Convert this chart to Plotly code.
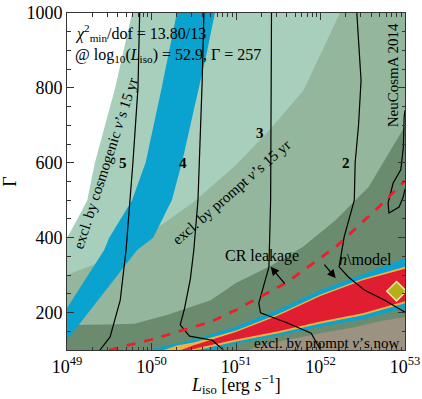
import plotly.graph_objects as go

# ---- region boundaries (log10 L_iso, Gamma) ----
white_edge_x = [49.0, 49.1, 49.24, 49.33, 49.45, 49.57, 49.67, 49.77]
white_edge_y = [400, 440, 500, 600, 700, 800, 900, 1000]

prompt15_x = [49.0, 49.4, 49.7, 50.0, 50.5, 51.0, 51.4, 51.8, 52.23]
prompt15_y = [300, 335, 370, 415, 495, 594, 688, 794, 1000]

dark_x = [49.0, 49.5, 49.8, 50.2, 50.7, 51.0, 51.39, 51.79, 52.18, 52.57, 53.0]
dark_y = [167, 168, 170, 195, 233, 279, 322, 375, 447, 535, 698]

now_x = [51.15, 51.3, 51.6, 52.0, 52.4, 52.7, 53.0]
now_y = [100, 113, 127, 145, 161, 177, 188]

cosmo_left_x = [49.0, 49.44, 49.5, 49.77, 49.93, 50.12, 50.30]
cosmo_left_y = [212, 367, 400, 500, 600, 800, 1000]
cosmo_right_x = [49.0, 49.83, 50.02, 50.24, 50.36, 50.46, 50.56, 50.66, 50.75]
cosmo_right_y = [127, 367, 400, 500, 600, 700, 800, 900, 1000]

cyan_top_x = [49.95, 50.5, 51.0, 51.5, 52.0, 52.5, 53.0]
cyan_top_y = [100, 128, 163, 208, 260, 302, 345]
cyan_bot_x = [50.7, 51.0, 51.5, 52.0, 52.5, 53.0]
cyan_bot_y = [100, 117, 138, 162, 182, 212]

orange_top_x = [50.15, 50.3, 50.5, 51.0, 51.5, 52.0, 52.5, 53.0]
orange_top_y = [100, 112, 120, 152, 196, 248, 290, 322]
orange_bot_x = [50.5, 50.6, 51.0, 51.5, 52.0, 52.5, 53.0]
orange_bot_y = [100, 103, 123, 145, 171, 193, 225]

red_top_x = [50.35, 50.5, 51.0, 51.5, 52.0, 52.5, 53.0]
red_top_y = [100, 113, 148, 192, 244, 286, 317]
red_bot_x = [50.45, 50.6, 51.0, 51.5, 52.0, 52.5, 53.0]
red_bot_y = [100, 108, 128, 150, 176, 198, 230]

# ---- contour lines ----
c5_x = [49.86, 49.84, 49.78, 49.70, 49.63, 49.51, 49.39]
c5_y = [1000, 800, 600, 370, 233, 135, 100]
c4_x = [50.62, 50.60, 50.55, 50.50, 50.46, 50.39, 50.34, 50.45, 50.72, 50.85]
c4_y = [1000, 820, 500, 365, 290, 210, 167, 137, 126, 100]
c3_x = [51.42, 51.41, 51.39, 51.27, 51.29, 51.61, 51.89, 52.0]
c3_y = [1000, 500, 322, 225, 199, 172, 145, 100]
c2_x = [52.43, 52.48, 52.45, 52.41, 52.40, 52.28, 52.22, 52.33, 52.52, 52.76, 53.0]
c2_y = [1000, 820, 700, 600, 500, 402, 322, 295, 260, 233, 201]
neu_x = [53.0, 52.99, 52.98, 52.95, 52.86, 52.80, 52.81, 52.93, 52.98, 53.0]
neu_y = [740, 722, 640, 581, 546, 493, 466, 482, 509, 530]

cr_x = [49.5, 50.0, 50.7, 51.0, 51.59, 52.18, 52.69, 53.0]
cr_y = [100, 128, 175, 207, 279, 375, 482, 552]

best_x = [52.9]
best_y = [257]

tick_exp = [49, 50, 51, 52, 53]

def L(v):
    return [10.0 ** a for a in v]

fig = go.Figure()

def poly(xs, ys, color):
    fig.add_trace(go.Scatter(x=L(xs), y=ys, fill="toself", fillcolor=color,
                             mode="none", hoverinfo="skip", showlegend=False))

poly(white_edge_x + [53.0, 53.0, 49.0], white_edge_y + [1000, 100, 100], "#a7cfbc")
poly(prompt15_x + [53.0, 53.0, 49.0], prompt15_y + [1000, 100, 100], "#93b69c")
poly(dark_x + [53.0, 49.0], dark_y + [100, 100], "#6b8b6f")
poly(now_x + [53.0], now_y + [100], "#9b9282")
poly(cosmo_left_x + cosmo_right_x[::-1], cosmo_left_y + cosmo_right_y[::-1], "#0aa3cf")
poly(cyan_top_x + cyan_bot_x[::-1], cyan_top_y + cyan_bot_y[::-1], "#0aa3cf")
poly(orange_top_x + orange_bot_x[::-1], orange_top_y + orange_bot_y[::-1], "#f2b33d")
poly(red_top_x + red_bot_x[::-1], red_top_y + red_bot_y[::-1], "#e01d31")

for xs, ys in [(c5_x, c5_y), (c4_x, c4_y), (c3_x, c3_y), (c2_x, c2_y), (neu_x, neu_y)]:
    fig.add_trace(go.Scatter(x=L(xs), y=ys, mode="lines",
                             line=dict(color="black", width=1.2),
                             hoverinfo="skip", showlegend=False))

fig.add_trace(go.Scatter(x=L(cr_x), y=cr_y, mode="lines",
                         line=dict(color="#e8202a", width=2.8, dash="dash"),
                         hoverinfo="skip", showlegend=False))

fig.add_trace(go.Scatter(x=L(best_x), y=best_y, mode="markers",
                         marker=dict(symbol="diamond", size=15, color="#b3b01a",
                                     line=dict(color="#f3ec9a", width=1.5)),
                         hoverinfo="skip", showlegend=False))

# minor-tick helper axis
minor_vals = [m * 10.0 ** e for e in range(49, 53) for m in range(2, 10)]
fig.add_trace(go.Scatter(x=[1e49], y=[100], xaxis="x2", mode="markers",
                         marker=dict(opacity=0), hoverinfo="skip", showlegend=False))

serif = "Liberation Serif"
fig.update_layout(
    width=422, height=399,
    margin=dict(l=67, r=17, t=13, b=49),
    paper_bgcolor="white", plot_bgcolor="white",
    font=dict(family=serif, size=17, color="black"),
    xaxis=dict(type="log", range=[49, 53], automargin=False,
               tickvals=[10.0 ** e for e in tick_exp],
               ticktext=["10<sup>%d</sup>" % e for e in tick_exp],
               ticks="inside", ticklen=7, tickcolor="#333",
               showline=True, linecolor="#333", linewidth=1, mirror="ticks",
               showgrid=False, zeroline=False,
               tickfont=dict(family=serif, size=18)),
    xaxis2=dict(type="log", range=[49, 53], overlaying="x", anchor="y", automargin=False,
                tickvals=minor_vals, showticklabels=False,
                ticks="inside", ticklen=3.5, tickcolor="#333",
                mirror="ticks", showline=False, showgrid=False, zeroline=False),
    yaxis=dict(range=[100, 1000], tickvals=[200, 400, 600, 800, 1000], automargin=False,
               ticks="inside", ticklen=7, tickcolor="#333",
               minor=dict(dtick=50, ticks="inside", ticklen=3.5, tickcolor="#333", showgrid=False),
               showline=True, linecolor="#333", linewidth=1, mirror="ticks",
               showgrid=False, zeroline=False,
               tickfont=dict(family=serif, size=18),
               title=dict(text="Γ", font=dict(family=serif, size=18), standoff=14)),
)

# x-axis title
fig.add_annotation(x=0.5, y=-0.102, xref="paper", yref="paper", showarrow=False,
                   text="<i>L</i><sub>iso</sub> [erg <i>s</i><sup>−1</sup>]",
                   xanchor="center", yanchor="middle",
                   font=dict(family=serif, size=18, color="black"))

def txt(x, y, s, size=16, angle=0, xanchor="center", bold=False):
    if bold:
        s = "<b>%s</b>" % s
    fig.add_annotation(x=x, y=y, xref="x", yref="y", text=s, showarrow=False,
                       textangle=angle, xanchor=xanchor, yanchor="middle",
                       font=dict(family=serif, size=size, color="black"))

txt(49.07, 946, "<i>χ</i><sup>2</sup><sub>min</sub>/dof = 13.80/13", 16, xanchor="left")
txt(49.07, 887, "@ log<sub>10</sub>(<i>L</i><sub>iso</sub>) = 52.9, Γ = 257", 16, xanchor="left")
txt(49.46, 599, "excl. by cosmogenic <i>ν</i>’s 15 yr", 15, angle=-72)
txt(50.95, 522, "excl. by prompt <i>ν</i>’s 15 yr", 15, angle=-41)
txt(52.86, 834, "NeuCosmA 2014", 15, angle=-90)
txt(52.08, 120, "excl. by prompt <i>ν</i>’s now", 15)
txt(49.66, 599, "5", 15, bold=True)
txt(50.37, 599, "4", 15, bold=True)
txt(51.28, 680, "3", 15, bold=True)
txt(52.30, 599, "2", 15, bold=True)
txt(51.31, 350, "CR leakage", 16)
txt(52.53, 342, "<i>n</i>\\model", 16)

fig.add_annotation(x=51.41, y=322, ax=51.59, ay=274, xref="x", yref="y",
                   axref="x", ayref="y", text="", showarrow=True,
                   arrowhead=2, arrowsize=1.3, arrowwidth=1.3, arrowcolor="black")
fig.add_annotation(x=52.18, y=292, ax=52.03, ay=332, xref="x", yref="y",
                   axref="x", ayref="y", text="", showarrow=True,
                   arrowhead=2, arrowsize=1.3, arrowwidth=1.3, arrowcolor="black")

fig.write_html("out.html")
